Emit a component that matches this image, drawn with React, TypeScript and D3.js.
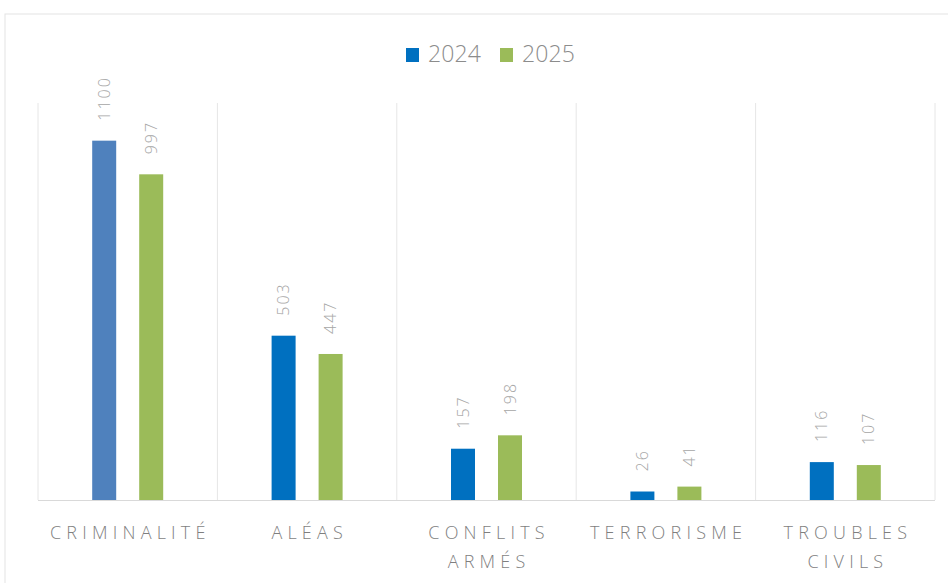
import React from "react";
import * as d3 from "d3";

const categories: string[][] = [
  ["CRIMINALITÉ"],
  ["ALÉAS"],
  ["CONFLITS", "ARMÉS"],
  ["TERRORISME"],
  ["TROUBLES", "CIVILS"],
];
const seriesNames = ["2024", "2025"];
const values2024 = [1100, 503, 157, 26, 116];
const values2025 = [997, 447, 198, 41, 107];
const yMax = 1200;

const W = 948;
const H = 583;
const COLORS = ["#0070C0", "#9BBB59"];
const FIRST_BAR_COLOR = "#4F81BD";
const FONT = "'Open Sans', 'Segoe UI', sans-serif";

export default function App() {
  const left = 38;
  const right = 935;
  const baseY = 500;
  const topY = 103;

  const x = d3
    .scaleBand<number>()
    .domain(d3.range(categories.length))
    .range([left, right])
    .padding(0);
  const y = d3.scaleLinear().domain([0, yMax]).range([baseY, 108]);

  const barW = 24;
  const series = [values2024, values2025];

  const gridXs = d3.range(categories.length + 1).map((i) =>
    i < categories.length ? (x(i) as number) : right
  );

  return (
    <svg
      width={W}
      height={H}
      style={{ position: "absolute", left: 0, top: 0, background: "#fff" }}
    >
      <rect x={5} y={14} width={W + 10} height={H + 10} fill="#fff" stroke="#e3e3e3" />
      {gridXs.map((gx, i) => (
        <line key={i} x1={gx} x2={gx} y1={topY} y2={baseY} stroke="#e6e6e6" strokeWidth={1} />
      ))}
      {series.map((vals, s) =>
        vals.map((v, i) => {
          const cx = (x(i) as number) + x.bandwidth() / 2 + (s === 0 ? -23.5 : 23.5);
          const col = s === 0 && i === 0 ? FIRST_BAR_COLOR : COLORS[s];
          return (
            <g key={`${s}-${i}`}>
              <rect x={cx - barW / 2} y={y(v)} width={barW} height={baseY - y(v)} fill={col} />
              <text
                transform={`translate(${cx + 5.5},${y(v) - 20}) rotate(-90)`}
                fontFamily={FONT}
                fontSize={16}
                fontWeight={300}
                letterSpacing={2}
                fill="#a6a6a6"
              >
                {v}
              </text>
            </g>
          );
        })
      )}
      <line x1={left} x2={right} y1={baseY + 0.5} y2={baseY + 0.5} stroke="#d9d9d9" />
      {categories.map((lines, i) => (
        <text
          key={i}
          textAnchor="middle"
          fontFamily={FONT}
          fontSize={18}
          fontWeight={300}
          letterSpacing={5.2}
          fill="#7f7f7f"
        >
          {lines.map((l, j) => (
            <tspan key={j} x={(x(i) as number) + x.bandwidth() / 2 + 2.6} y={539 + j * 29}>
              {l}
            </tspan>
          ))}
        </text>
      ))}
      {seriesNames.map((n, s) => {
        const lx = s === 0 ? 406 : 500;
        return (
          <g key={n}>
            <rect x={lx} y={48} width={13} height={14} fill={COLORS[s]} />
            <text
              x={lx + 22}
              y={62}
              fontFamily={FONT}
              fontSize={23}
              fontWeight={300}
              fill="#8c8c8c"
              textLength={53}
            >
              {n}
            </text>
          </g>
        );
      })}
    </svg>
  );
}
